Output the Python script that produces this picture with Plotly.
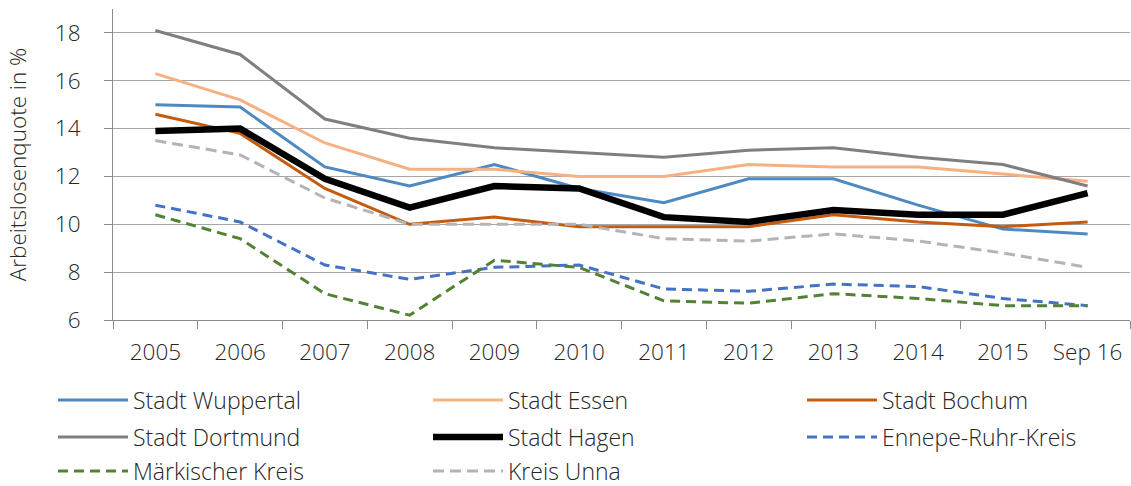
import plotly.graph_objects as go

categories = ["2005", "2006", "2007", "2008", "2009", "2010", "2011", "2012", "2013", "2014", "2015", "Sep 16"]

wuppertal = [15.0, 14.9, 12.4, 11.6, 12.5, 11.5, 10.9, 11.9, 11.9, 10.8, 9.8, 9.6]
essen = [16.3, 15.2, 13.4, 12.3, 12.3, 12.0, 12.0, 12.5, 12.4, 12.4, 12.1, 11.8]
bochum = [14.6, 13.8, 11.5, 10.0, 10.3, 9.9, 9.9, 9.9, 10.4, 10.1, 9.9, 10.1]
dortmund = [18.1, 17.1, 14.4, 13.6, 13.2, 13.0, 12.8, 13.1, 13.2, 12.8, 12.5, 11.6]
hagen = [13.9, 14.0, 11.9, 10.7, 11.6, 11.5, 10.3, 10.1, 10.6, 10.4, 10.4, 11.3]
ennepe = [10.8, 10.1, 8.3, 7.7, 8.2, 8.3, 7.3, 7.2, 7.5, 7.4, 6.9, 6.6]
maerkisch = [10.4, 9.4, 7.1, 6.2, 8.5, 8.2, 6.8, 6.7, 7.1, 6.9, 6.6, 6.6]
unna = [13.5, 12.9, 11.1, 10.0, 10.0, 10.0, 9.4, 9.3, 9.6, 9.3, 8.8, 8.2]

y_ticks = [6, 8, 10, 12, 14, 16, 18]

# name, values, colour, width, dash
series = [
    ("Stadt Wuppertal", wuppertal, "#4E8AC1", 3, "solid"),
    ("Stadt Essen", essen, "#F6B183", 3, "solid"),
    ("Stadt Bochum", bochum, "#C55A11", 3, "solid"),
    ("Stadt Dortmund", dortmund, "#7F7F7F", 3, "solid"),
    ("Stadt Hagen", hagen, "#000000", 6.5, "solid"),
    ("Ennepe-Ruhr-Kreis", ennepe, "#4472C4", 3, "10px,6px"),
    ("Märkischer Kreis", maerkisch, "#548235", 3, "10px,6px"),
    ("Kreis Unna", unna, "#B4B4B4", 3, "11px,6px"),
]

font_family = "Open Sans, sans-serif"
txt = "#262626"

# legend grid: 3 columns, 3 rows (pixel anchors)
col_x = [53, 428, 802]
row_y = [400, 437, 471]

fig = go.Figure()
legends = {}
for i, (name, vals, color, width, dash) in enumerate(series):
    key = "legend" if i == 0 else f"legend{i + 1}"
    fig.add_trace(go.Scatter(
        x=categories, y=vals, name=name, mode="lines",
        line=dict(color=color, width=width, dash=dash),
        legend=key,
    ))
    legends[key] = dict(
        orientation="h", xref="container", yref="container",
        x=col_x[i % 3] / 1131, xanchor="left",
        y=1 - row_y[i // 3] / 486, yanchor="middle",
        itemwidth=70,
        font=dict(size=23, family=font_family, color=txt, weight=300),
        bgcolor="rgba(0,0,0,0)",
    )

fig.update_layout(
    width=1131, height=486,
    margin=dict(l=113, r=1, t=9, b=166, autoexpand=False),
    plot_bgcolor="white", paper_bgcolor="white",
    font=dict(family=font_family, size=22, color=txt, weight=300),
    showlegend=True,
    **legends,
    xaxis=dict(
        type="category", range=[-0.5, 11.5], tickson="boundaries",
        ticks="outside", ticklen=8, ticklabelstandoff=12, automargin=False,
        tickcolor="#8C8C8C", showline=True, linecolor="#8C8C8C", linewidth=1,
        showgrid=False, tickfont=dict(size=22.5, weight=300),
    ),
    yaxis=dict(
        range=[6, 19], tickvals=y_ticks, ticks="outside", ticklen=8,
        ticklabelstandoff=19, automargin=False,
        tickcolor="#8C8C8C", showline=True, linecolor="#8C8C8C", linewidth=1,
        showgrid=True, gridcolor="#A6A6A6", gridwidth=1, zeroline=False,
        tickfont=dict(size=22.5, weight=300),
        title=dict(text="Arbeitslosenquote in %", font=dict(size=22.5, weight=300), standoff=21),
    ),
)

fig.write_html("out.html", config={"displayModeBar": False},
               post_script="document.body.style.margin='0';")
